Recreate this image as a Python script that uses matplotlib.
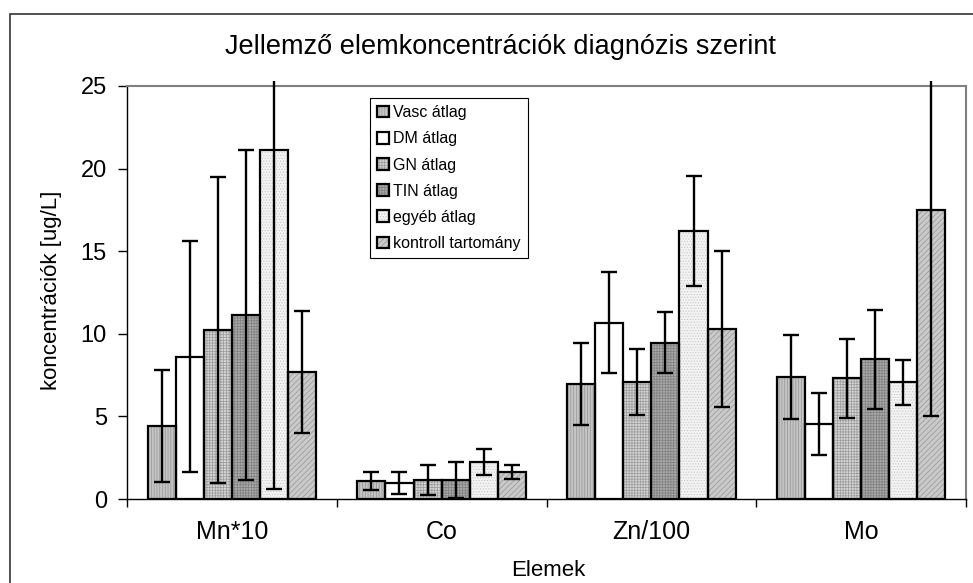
import matplotlib
matplotlib.use("Agg")
import matplotlib.pyplot as plt
import numpy as np
from matplotlib.patches import Rectangle
from matplotlib.transforms import Bbox, TransformedBbox

plt.rcParams['font.family'] = ['Liberation Sans', 'DejaVu Sans']
plt.rcParams['hatch.linewidth'] = 0.5

categories = ["Mn*10", "Co", "Zn/100", "Mo"]
series_names = ["Vasc átlag", "DM átlag", "GN átlag", "TIN átlag", "egyéb átlag", "kontroll tartomány"]

vasc = [4.40, 1.09, 6.96, 7.38]
vasc_err = [3.40, 0.56, 2.46, 2.52]
dm = [8.62, 0.97, 10.67, 4.54]
dm_err = [7.00, 0.65, 3.07, 1.87]
gn = [10.23, 1.15, 7.06, 7.30]
gn_err = [9.27, 0.93, 2.00, 2.37]
tin = [11.14, 1.13, 9.46, 8.45]
tin_err = [10.00, 1.09, 1.86, 3.00]
egyeb = [21.13, 2.24, 16.24, 7.06]
egyeb_err = [20.50, 0.78, 3.33, 1.36]
kontroll = [7.71, 1.63, 10.27, 17.49]
kontroll_err = [3.70, 0.42, 4.72, 12.47]

yticks = [0, 5, 10, 15, 20, 25]

values = [vasc, dm, gn, tin, egyeb, kontroll]
errors = [vasc_err, dm_err, gn_err, tin_err, egyeb_err, kontroll_err]
faces = ["#c4c4c4", "#ffffff", "#d4d4d4", "#a8a8a8", "#f3f3f3", "#cacaca"]
hatch_cols = ["#959595", "#ffffff", "#9a9a9a", "#808080", "#c8c8c8", "#959595"]
hatches = ["||||||", None, "++++++", "++++++", "......", "//////"]

W, H = 973, 583
fig = plt.figure(figsize=(W / 100, H / 100), dpi=100)
ax = fig.add_axes([127 / W, 1 - 499 / H, (966 - 127) / W, (499 - 86) / H])

x = np.arange(len(categories))
w = 0.134
clipbox = TransformedBbox(Bbox([[0, -0.02], [1, 1.013]]), ax.transAxes)
handles = []
for i, (vals, errs) in enumerate(zip(values, errors)):
    pos = x + (i - 2.5) * w
    b1 = ax.bar(pos, vals, w, color=faces[i], edgecolor=hatch_cols[i],
                hatch=hatches[i], linewidth=0, zorder=2)
    b2 = ax.bar(pos, vals, w, fill=False, edgecolor="black", linewidth=1.6, zorder=3)
    eb = ax.errorbar(pos, vals, yerr=errs, fmt="none", ecolor="black",
                     elinewidth=1.7, capsize=6, capthick=1.7, zorder=4)
    for art in list(eb.lines[1]) + list(eb.lines[2]):
        art.set_clip_box(clipbox)
    handles.append((b1[0], b2[0]))

ax.set_xlim(-0.5, 3.5)
ax.set_ylim(0, 25)
ax.set_yticks(yticks)
ax.set_yticklabels([str(t) for t in yticks], fontsize=17)
ax.set_xticks(x)
ax.set_xticklabels(categories, fontsize=18)
ax.set_xticks(np.arange(-0.5, 4.0, 1.0), minor=True)
ax.tick_params(axis="x", which="major", length=0, pad=15)
ax.tick_params(axis="x", which="minor", length=6, width=1, direction="out")
ax.tick_params(axis="y", which="major", length=6.5, width=1, direction="out", pad=8)

for s in ["left", "bottom"]:
    ax.spines[s].set_color("black")
    ax.spines[s].set_linewidth(1.0)
for s in ["top", "right"]:
    ax.spines[s].set_color("#808080")
    ax.spines[s].set_linewidth(1.5)

leg = ax.legend(handles, series_names, loc="upper left",
                bbox_to_anchor=((370 - 127) / 839, (499 - 98) / 413),
                fontsize=11.5, frameon=True, fancybox=False, framealpha=1,
                edgecolor="black", handlelength=0.75, handleheight=0.75,
                handletextpad=0.25, labelspacing=0.7, borderpad=0.45,
                borderaxespad=0)
leg.get_frame().set_linewidth(0.8)

fig.text(500 / W, 1 - 47 / H, "Jellemző elemkoncentrációk diagnózis szerint",
         ha="center", va="center", fontsize=19.5)
fig.text(548 / W, 1 - 570 / H, "Elemek", ha="center", va="center", fontsize=16)
fig.text(52 / W, 1 - 290 / H, "koncentrációk [ug/L]", ha="center", va="center",
         rotation=90, fontsize=16)

border = Rectangle((10 / W, -0.05), 1.2, (H - 14) / H + 0.05, transform=fig.transFigure,
                   fill=False, edgecolor="#333333", linewidth=1.2)
fig.patches.append(border)

fig.savefig("out.png", dpi=100)
